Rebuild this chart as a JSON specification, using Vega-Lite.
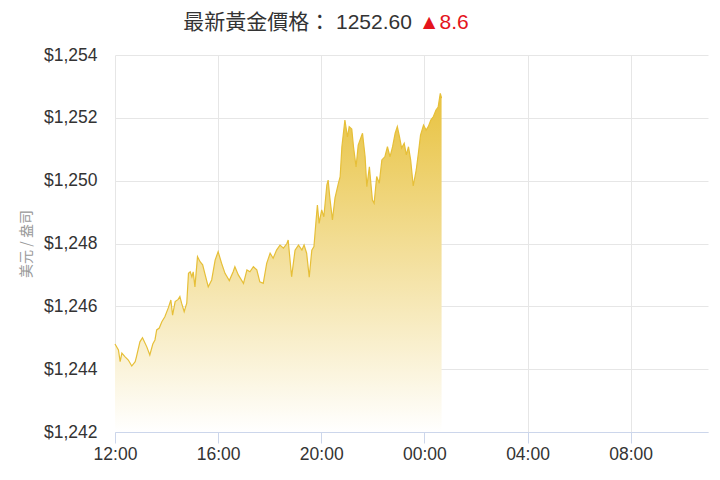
{
  "$schema": "https://vega.github.io/schema/vega-lite/v6.json",
  "width": 593,
  "height": 377,
  "autosize": {"type": "none"},
  "padding": {"left": 115, "top": 55, "right": 12, "bottom": 48},
  "background": "#ffffff",
  "config": {
    "view": {"stroke": null},
    "axis": {
      "labelFont": "Liberation Sans",
      "labelFontSize": 17.5,
      "labelColor": "#333333",
      "gridColor": "#e6e6e6",
      "gridWidth": 1
    }
  },
  "data": {
    "values": [
      {"t": "2019-01-01T12:00", "p": 1244.80},
      {"t": "2019-01-01T12:08", "p": 1244.61},
      {"t": "2019-01-01T12:12", "p": 1244.24},
      {"t": "2019-01-01T12:16", "p": 1244.51},
      {"t": "2019-01-01T12:23", "p": 1244.40},
      {"t": "2019-01-01T12:31", "p": 1244.29},
      {"t": "2019-01-01T12:39", "p": 1244.10},
      {"t": "2019-01-01T12:47", "p": 1244.24},
      {"t": "2019-01-01T12:50", "p": 1244.40},
      {"t": "2019-01-01T12:58", "p": 1244.87},
      {"t": "2019-01-01T13:04", "p": 1245.00},
      {"t": "2019-01-01T13:14", "p": 1244.71},
      {"t": "2019-01-01T13:21", "p": 1244.45},
      {"t": "2019-01-01T13:28", "p": 1244.80},
      {"t": "2019-01-01T13:33", "p": 1244.93},
      {"t": "2019-01-01T13:37", "p": 1245.25},
      {"t": "2019-01-01T13:43", "p": 1245.31},
      {"t": "2019-01-01T13:49", "p": 1245.51},
      {"t": "2019-01-01T13:56", "p": 1245.67},
      {"t": "2019-01-01T14:04", "p": 1245.95},
      {"t": "2019-01-01T14:10", "p": 1246.20},
      {"t": "2019-01-01T14:14", "p": 1245.72},
      {"t": "2019-01-01T14:20", "p": 1246.15},
      {"t": "2019-01-01T14:27", "p": 1246.22},
      {"t": "2019-01-01T14:31", "p": 1246.31},
      {"t": "2019-01-01T14:35", "p": 1246.10},
      {"t": "2019-01-01T14:41", "p": 1245.83},
      {"t": "2019-01-01T14:47", "p": 1246.10},
      {"t": "2019-01-01T14:51", "p": 1247.05},
      {"t": "2019-01-01T14:55", "p": 1247.10},
      {"t": "2019-01-01T14:59", "p": 1246.94},
      {"t": "2019-01-01T15:02", "p": 1247.10},
      {"t": "2019-01-01T15:06", "p": 1246.62},
      {"t": "2019-01-01T15:12", "p": 1247.58},
      {"t": "2019-01-01T15:18", "p": 1247.42},
      {"t": "2019-01-01T15:24", "p": 1247.32},
      {"t": "2019-01-01T15:29", "p": 1247.05},
      {"t": "2019-01-01T15:37", "p": 1246.62},
      {"t": "2019-01-01T15:45", "p": 1246.84},
      {"t": "2019-01-01T15:53", "p": 1247.47},
      {"t": "2019-01-01T16:00", "p": 1247.74},
      {"t": "2019-01-01T16:08", "p": 1247.37},
      {"t": "2019-01-01T16:16", "p": 1247.05},
      {"t": "2019-01-01T16:26", "p": 1246.82},
      {"t": "2019-01-01T16:35", "p": 1247.10},
      {"t": "2019-01-01T16:39", "p": 1247.26},
      {"t": "2019-01-01T16:47", "p": 1247.00},
      {"t": "2019-01-01T16:59", "p": 1246.73},
      {"t": "2019-01-01T17:07", "p": 1247.16},
      {"t": "2019-01-01T17:14", "p": 1247.10},
      {"t": "2019-01-01T17:22", "p": 1247.26},
      {"t": "2019-01-01T17:30", "p": 1247.16},
      {"t": "2019-01-01T17:37", "p": 1246.78},
      {"t": "2019-01-01T17:45", "p": 1246.73},
      {"t": "2019-01-01T17:53", "p": 1247.37},
      {"t": "2019-01-01T18:01", "p": 1247.69},
      {"t": "2019-01-01T18:08", "p": 1247.53},
      {"t": "2019-01-01T18:16", "p": 1247.79},
      {"t": "2019-01-01T18:24", "p": 1247.95},
      {"t": "2019-01-01T18:32", "p": 1247.85},
      {"t": "2019-01-01T18:40", "p": 1248.00},
      {"t": "2019-01-01T18:43", "p": 1248.11},
      {"t": "2019-01-01T18:51", "p": 1246.94},
      {"t": "2019-01-01T18:59", "p": 1247.79},
      {"t": "2019-01-01T19:07", "p": 1247.95},
      {"t": "2019-01-01T19:15", "p": 1247.79},
      {"t": "2019-01-01T19:20", "p": 1247.95},
      {"t": "2019-01-01T19:26", "p": 1247.69},
      {"t": "2019-01-01T19:32", "p": 1246.93},
      {"t": "2019-01-01T19:38", "p": 1247.79},
      {"t": "2019-01-01T19:43", "p": 1247.90},
      {"t": "2019-01-01T19:48", "p": 1248.75},
      {"t": "2019-01-01T19:51", "p": 1249.22},
      {"t": "2019-01-01T19:55", "p": 1248.64},
      {"t": "2019-01-01T20:01", "p": 1249.07},
      {"t": "2019-01-01T20:06", "p": 1248.85},
      {"t": "2019-01-01T20:13", "p": 1249.86},
      {"t": "2019-01-01T20:16", "p": 1250.02},
      {"t": "2019-01-01T20:20", "p": 1249.45},
      {"t": "2019-01-01T20:26", "p": 1248.75},
      {"t": "2019-01-01T20:32", "p": 1249.45},
      {"t": "2019-01-01T20:40", "p": 1249.92},
      {"t": "2019-01-01T20:44", "p": 1250.13},
      {"t": "2019-01-01T20:48", "p": 1251.08},
      {"t": "2019-01-01T20:55", "p": 1251.93},
      {"t": "2019-01-01T21:01", "p": 1251.39},
      {"t": "2019-01-01T21:05", "p": 1251.72},
      {"t": "2019-01-01T21:11", "p": 1251.64},
      {"t": "2019-01-01T21:15", "p": 1251.08},
      {"t": "2019-01-01T21:21", "p": 1250.44},
      {"t": "2019-01-01T21:26", "p": 1251.13},
      {"t": "2019-01-01T21:33", "p": 1251.40},
      {"t": "2019-01-01T21:36", "p": 1251.51},
      {"t": "2019-01-01T21:42", "p": 1250.76},
      {"t": "2019-01-01T21:46", "p": 1249.81},
      {"t": "2019-01-01T21:52", "p": 1250.44},
      {"t": "2019-01-01T21:59", "p": 1249.38},
      {"t": "2019-01-01T22:03", "p": 1249.28},
      {"t": "2019-01-01T22:09", "p": 1250.13},
      {"t": "2019-01-01T22:15", "p": 1249.92},
      {"t": "2019-01-01T22:21", "p": 1250.66},
      {"t": "2019-01-01T22:28", "p": 1250.76},
      {"t": "2019-01-01T22:34", "p": 1251.08},
      {"t": "2019-01-01T22:40", "p": 1250.76},
      {"t": "2019-01-01T22:46", "p": 1251.08},
      {"t": "2019-01-01T22:52", "p": 1251.51},
      {"t": "2019-01-01T22:57", "p": 1251.72},
      {"t": "2019-01-01T23:02", "p": 1251.40},
      {"t": "2019-01-01T23:07", "p": 1251.04},
      {"t": "2019-01-01T23:13", "p": 1251.19},
      {"t": "2019-01-01T23:18", "p": 1250.82},
      {"t": "2019-01-01T23:23", "p": 1251.08},
      {"t": "2019-01-01T23:28", "p": 1250.66},
      {"t": "2019-01-01T23:34", "p": 1249.83},
      {"t": "2019-01-01T23:41", "p": 1250.34},
      {"t": "2019-01-01T23:46", "p": 1250.87},
      {"t": "2019-01-01T23:51", "p": 1251.45},
      {"t": "2019-01-01T23:58", "p": 1251.77},
      {"t": "2019-01-02T00:04", "p": 1251.61},
      {"t": "2019-01-02T00:09", "p": 1251.72},
      {"t": "2019-01-02T00:15", "p": 1251.93},
      {"t": "2019-01-02T00:21", "p": 1252.04},
      {"t": "2019-01-02T00:27", "p": 1252.25},
      {"t": "2019-01-02T00:32", "p": 1252.34},
      {"t": "2019-01-02T00:37", "p": 1252.78},
      {"t": "2019-01-02T00:40", "p": 1252.63}
    ]
  },
  "encoding": {
    "x": {
      "field": "t",
      "type": "temporal",
      "scale": {
        "domain": ["2019-01-01T12:00", "2019-01-02T11:00"],
        "nice": false
      },
      "axis": {
        "title": null,
        "format": "%H:%M",
        "values": ["2019-01-01T12:00", "2019-01-01T16:00", "2019-01-01T20:00", "2019-01-02T00:00", "2019-01-02T04:00", "2019-01-02T08:00"],
        "domainColor": "#ccd6eb",
        "tickColor": "#ccd6eb",
        "tickSize": 11,
        "labelPadding": 2,
        "labelFlush": false,
        "labelOverlap": false
      }
    },
    "y": {
      "field": "p",
      "type": "quantitative",
      "stack": null,
      "scale": {"domain": [1242, 1254], "zero": false, "nice": false},
      "axis": {
        "title": "美元 / 盎司",
        "titleFont": "Noto Sans CJK TC",
        "titleFontSize": 14,
        "titleFontWeight": "normal",
        "titleColor": "#999999",
        "titlePadding": 10,
        "values": [1242, 1244, 1246, 1248, 1250, 1252, 1254],
        "format": "$,.0f",
        "domain": false,
        "ticks": false,
        "tickSize": 0,
        "labelPadding": 18
      }
    }
  },
  "layer": [
    {
      "mark": {
        "type": "area",
        "color": {
          "gradient": "linear",
          "x1": 0, "y1": 0, "x2": 0, "y2": 1,
          "stops": [
            {"offset": 0, "color": "#e8c23f"},
            {"offset": 1, "color": "#ffffff"}
          ]
        }
      }
    },
    {
      "mark": {"type": "line", "color": "#e6bf38", "strokeWidth": 1.2}
    },
    {
      "data": {"values": [{"label": "最新黃金價格： 1252.60", "t": "2019-01-01T23:31", "p": 1254.82}]},
      "mark": {
        "type": "text",
        "align": "right",
        "baseline": "alphabetic",
        "font": "Liberation Sans, Noto Sans CJK TC",
        "fontSize": 21,
        "color": "#333333"
      },
      "encoding": {
        "text": {"field": "label"}
      }
    },
    {
      "data": {"values": [{"label": "▲8.6", "t": "2019-01-01T23:47", "p": 1254.82}]},
      "mark": {
        "type": "text",
        "align": "left",
        "baseline": "alphabetic",
        "font": "Liberation Sans, DejaVu Sans",
        "fontSize": 21,
        "color": "#e4141c"
      },
      "encoding": {
        "text": {"field": "label"}
      }
    }
  ]
}
